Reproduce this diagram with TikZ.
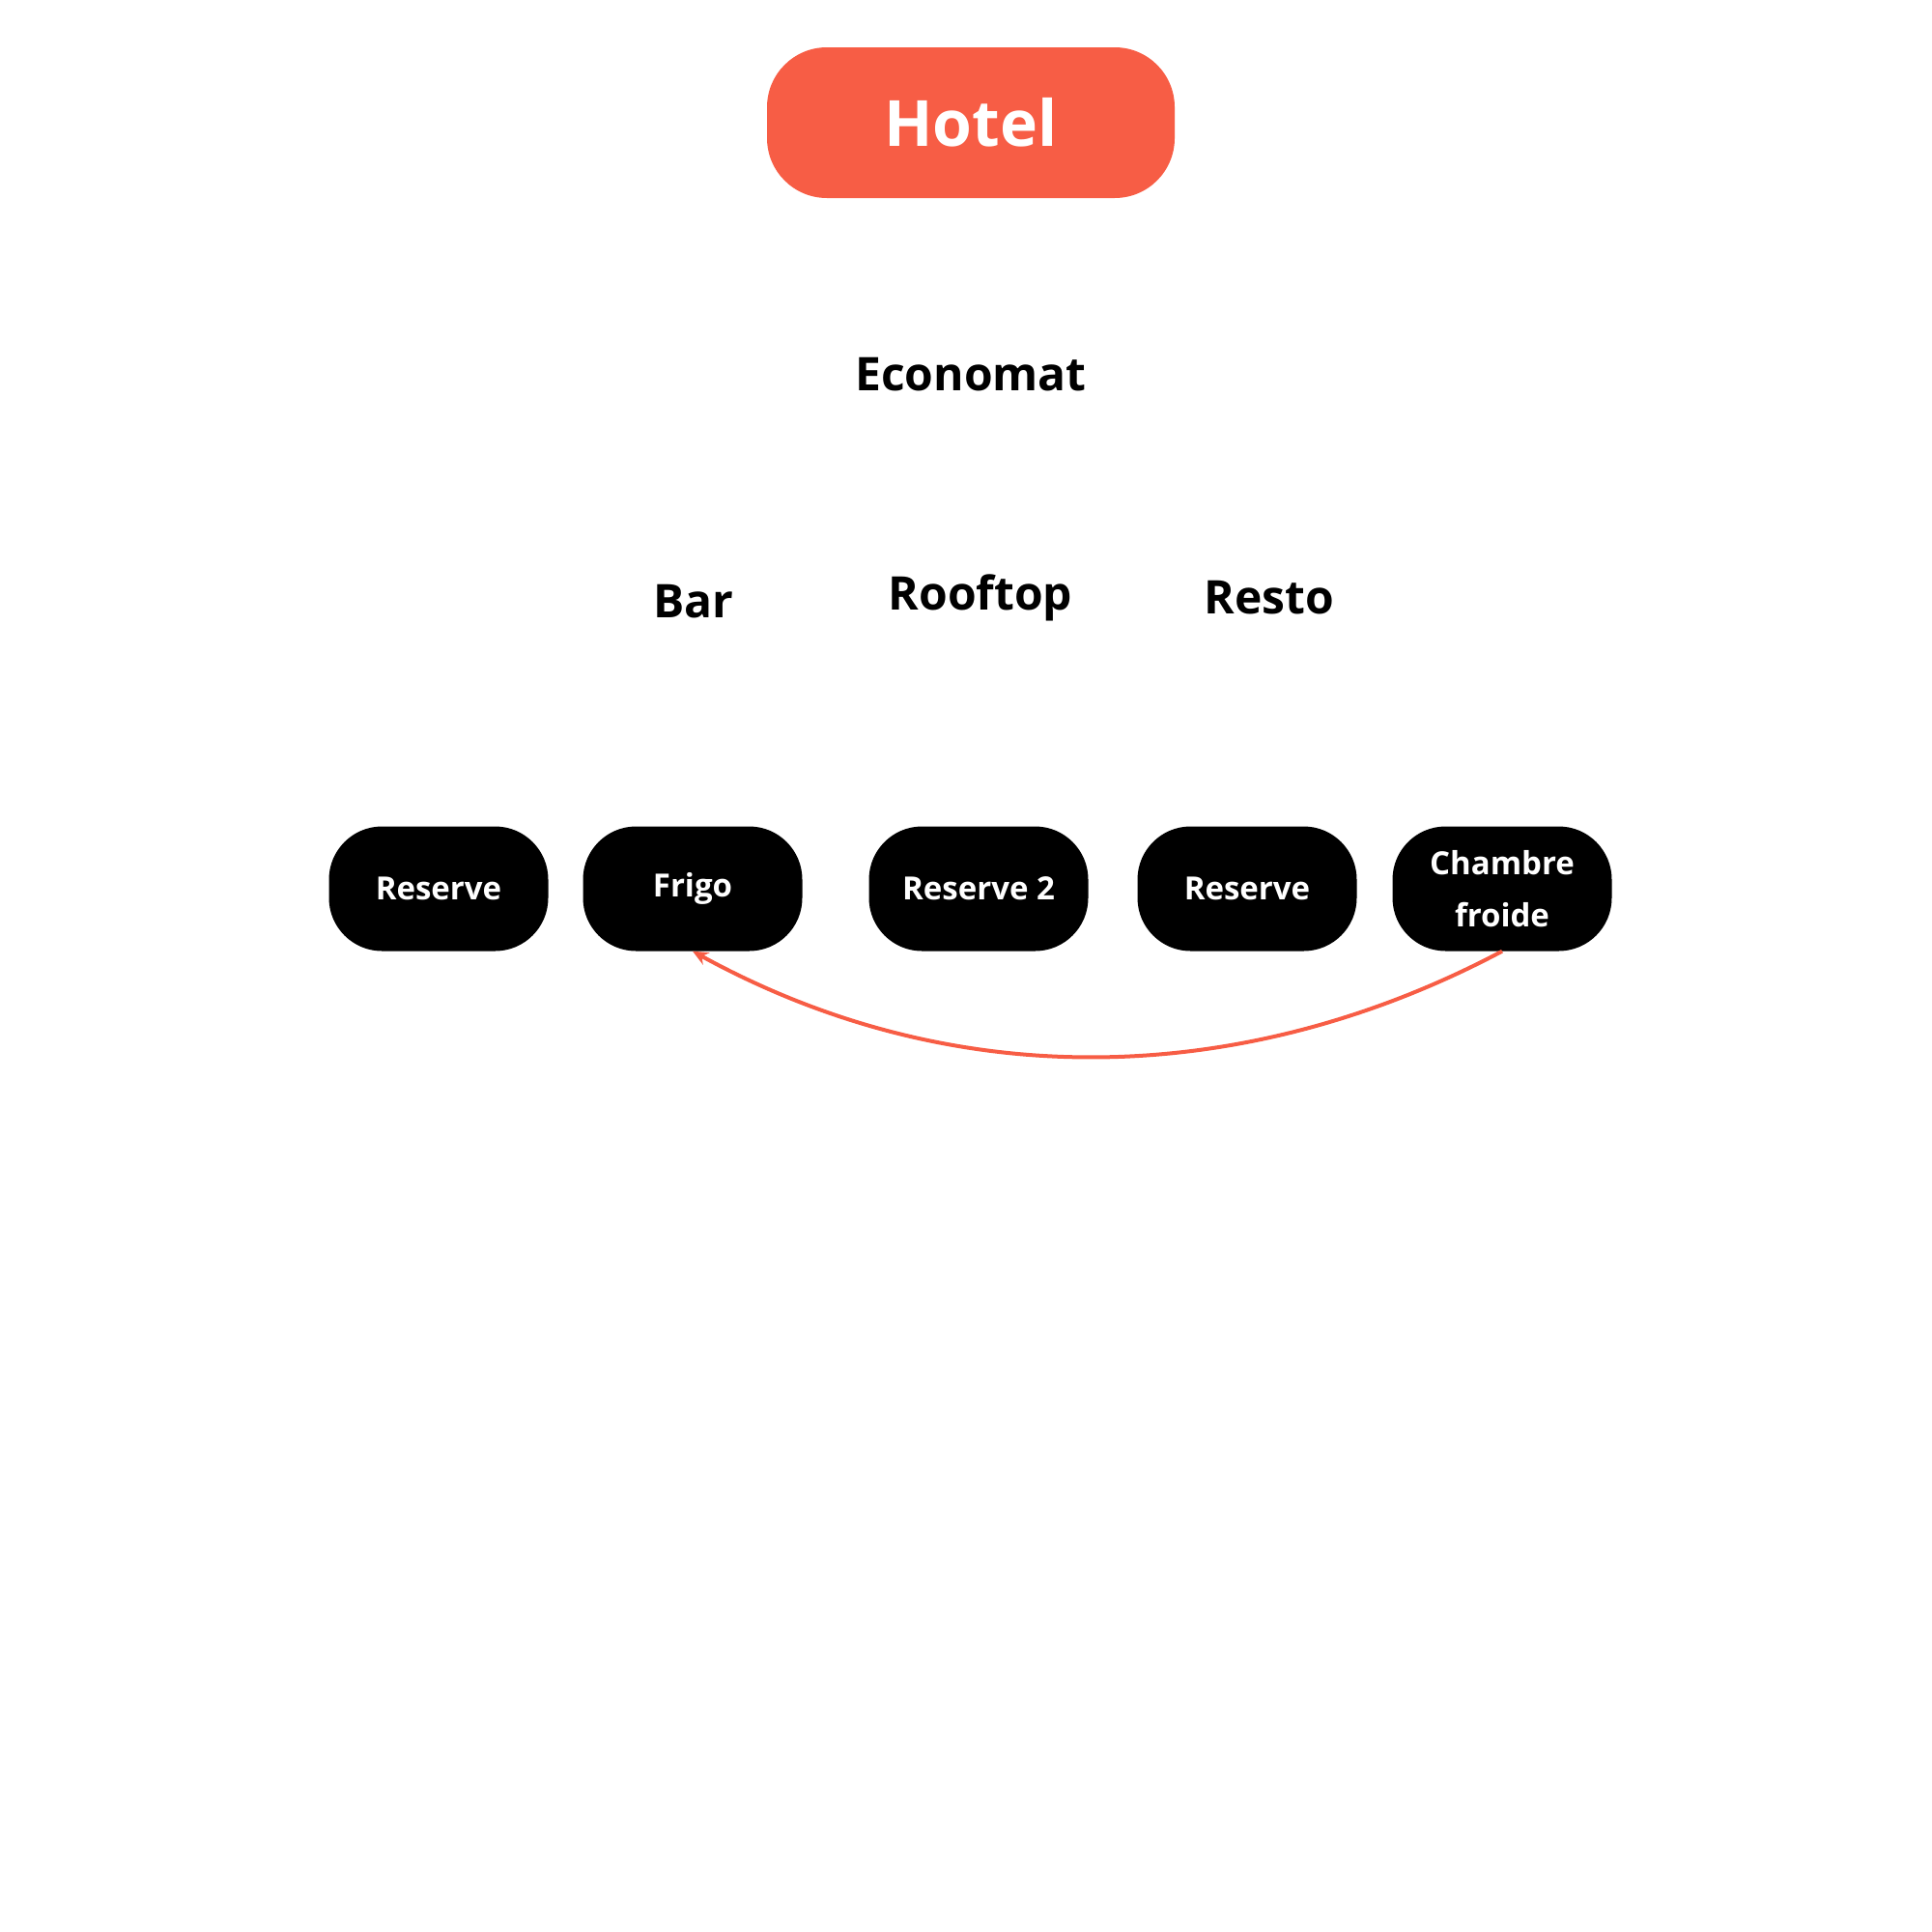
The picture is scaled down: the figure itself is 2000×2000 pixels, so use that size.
\documentclass[tikz,border=0pt]{standalone}
\usepackage{fontspec}
\setmainfont{Open Sans}
\usetikzlibrary{arrows.meta}
\definecolor{hot}{HTML}{F75D45}
\begin{document}
\begin{tikzpicture}[x=1pt,y=-1pt,
 pill/.style={fill=black,rounded corners=55pt,minimum width=227pt,minimum height=129pt,text=white,font=\bfseries\fontsize{33}{54}\selectfont,align=center,inner sep=0},
 lbl/.style={font=\bfseries\fontsize{48}{56}\selectfont}]
\useasboundingbox (0,0) rectangle (2000,2000);
\node[fill=hot,rounded corners=62pt,minimum width=422pt,minimum height=156pt,text=white,font=\bfseries\fontsize{66}{70}\selectfont] (hotel) at (1005,127) {Hotel};
\node[lbl] (eco) at (1005,388) {Economat};
\node[lbl] (bar) at (718,623) {Bar};
\node[lbl] (roof) at (1015,619) {Rooftop};
\node[lbl] (resto) at (1314,619) {Resto};
\node[pill] (r1) at (454,920) {Reserve};
\node[pill] (frigo) at (717,920) {Frigo};
\node[pill] (r2) at (1013,920) {Reserve 2};
\node[pill] (r3) at (1291,920) {Reserve};
\node[pill] (ch) at (1555,920) {Chambre\\froide};
\draw[hot,line width=4pt,-{Stealth[length=16pt,width=14pt]}] (ch.south) .. controls (1300,1120) and (1000,1140) .. (frigo.south);
\end{tikzpicture}
\end{document}
